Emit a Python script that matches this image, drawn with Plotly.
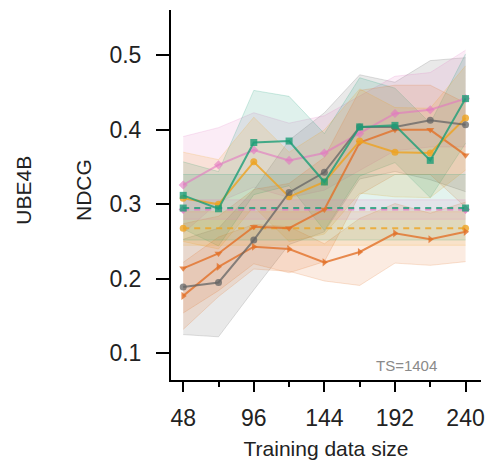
import plotly.graph_objects as go

# Training set sizes
sizes = [48, 72, 96, 120, 144, 168, 192, 216, 240]

# Mean NDCG per method, with lower / upper band limits
green_mean = [0.312, 0.294, 0.383, 0.385, 0.330, 0.404, 0.406, 0.359, 0.442]
green_lo = [0.267, 0.244, 0.313, 0.325, 0.265, 0.338, 0.356, 0.309, 0.382]
green_hi = [0.357, 0.344, 0.453, 0.445, 0.395, 0.470, 0.456, 0.409, 0.502]

pink_mean = [0.326, 0.353, 0.373, 0.359, 0.369, 0.395, 0.422, 0.427, 0.442]
pink_lo = [0.261, 0.303, 0.323, 0.309, 0.319, 0.345, 0.372, 0.377, 0.377]
pink_hi = [0.391, 0.403, 0.423, 0.409, 0.419, 0.445, 0.472, 0.477, 0.507]

yellow_mean = [0.308, 0.300, 0.357, 0.310, 0.330, 0.385, 0.370, 0.369, 0.416]
yellow_lo = [0.250, 0.240, 0.297, 0.250, 0.260, 0.315, 0.310, 0.309, 0.346]
yellow_hi = [0.370, 0.360, 0.417, 0.370, 0.400, 0.455, 0.430, 0.429, 0.486]

orange_a_mean = [0.214, 0.234, 0.270, 0.268, 0.293, 0.383, 0.400, 0.400, 0.366]
orange_a_lo = [0.154, 0.184, 0.220, 0.208, 0.223, 0.313, 0.340, 0.340, 0.296]
orange_a_hi = [0.274, 0.284, 0.320, 0.328, 0.363, 0.453, 0.460, 0.460, 0.436]

orange_b_mean = [0.177, 0.216, 0.243, 0.240, 0.222, 0.236, 0.261, 0.253, 0.263]
orange_b_lo = [0.132, 0.176, 0.213, 0.210, 0.197, 0.191, 0.221, 0.218, 0.223]
orange_b_hi = [0.222, 0.256, 0.273, 0.270, 0.247, 0.281, 0.301, 0.288, 0.303]

grey_mean = [0.189, 0.195, 0.252, 0.316, 0.343, 0.404, 0.404, 0.413, 0.407]
grey_lo = [0.125, 0.122, 0.185, 0.246, 0.263, 0.334, 0.344, 0.333, 0.317]
grey_hi = [0.253, 0.268, 0.319, 0.386, 0.423, 0.474, 0.464, 0.493, 0.497]

# Baselines that do not depend on training size (value, low, high)
base_ends = [48, 240]
green_base = [0.295, 0.252, 0.340]
pink_base = [0.293, 0.280, 0.306]
yellow_base = [0.268, 0.245, 0.290]

y_ticks = [0.1, 0.2, 0.3, 0.4, 0.5]
x_ticks = [48, 96, 144, 192, 240]

GREEN = "27,158,119"
PINK = "227,119,194"
YELLOW = "238,163,32"
ORANGE = "226,113,40"
GREY = "100,100,100"


def rgba(c, a):
    return f"rgba({c},{a})"


fig = go.Figure()


def add_band(x, lo, hi, col, alpha=0.14):
    fig.add_trace(go.Scatter(x=x, y=hi, mode="lines",
                             line=dict(color=rgba(col, 0.2), width=1),
                             hoverinfo="skip", showlegend=False))
    fig.add_trace(go.Scatter(x=x, y=lo, mode="lines",
                             line=dict(color=rgba(col, 0.2), width=1),
                             fill="tonexty", fillcolor=rgba(col, alpha),
                             hoverinfo="skip", showlegend=False))


# shaded spreads
for lo, hi, col in [(grey_lo, grey_hi, GREY), (pink_lo, pink_hi, PINK),
                    (green_lo, green_hi, GREEN), (yellow_lo, yellow_hi, YELLOW),
                    (orange_a_lo, orange_a_hi, ORANGE), (orange_b_lo, orange_b_hi, ORANGE)]:
    add_band(sizes, lo, hi, col)

for base, col in [(green_base, GREEN), (yellow_base, YELLOW), (pink_base, PINK)]:
    add_band(base_ends, [base[1]] * 2, [base[2]] * 2, col, 0.12)

# dashed baselines
for base, col, sym in [(yellow_base, YELLOW, "circle"), (pink_base, PINK, "diamond"),
                       (green_base, GREEN, "square")]:
    fig.add_trace(go.Scatter(x=base_ends, y=[base[0]] * 2, mode="lines+markers",
                             line=dict(color=rgba(col, 0.8), width=2, dash="6px,5px"),
                             marker=dict(symbol=sym, size=7, color=rgba(col, 0.8)),
                             showlegend=False))

# method curves
for mean, col, sym, a in [(orange_b_mean, ORANGE, "triangle-right", 0.8),
                          (orange_a_mean, ORANGE, "triangle-down", 0.8),
                          (yellow_mean, YELLOW, "circle", 0.8),
                          (pink_mean, PINK, "diamond", 0.6),
                          (grey_mean, GREY, "circle", 0.75),
                          (green_mean, GREEN, "square", 0.8)]:
    fig.add_trace(go.Scatter(x=sizes, y=mean, mode="lines+markers",
                             line=dict(color=rgba(col, a), width=2),
                             marker=dict(symbol=sym, size=7, color=rgba(col, a)),
                             showlegend=False))

FONT = "Liberation Sans, Arial, sans-serif"

fig.update_layout(
    width=491, height=464,
    margin=dict(l=171, r=6, t=10, b=84),
    plot_bgcolor="white", paper_bgcolor="white",
    font=dict(family=FONT, size=21, color="#222"),
    xaxis=dict(range=[39.7, 250.5], tickvals=x_ticks, ticktext=[str(v) for v in x_ticks],
               tickfont=dict(size=23),
               showline=True, linecolor="black", linewidth=2, showgrid=False, zeroline=False,
               ticks="outside", ticklen=10, tickwidth=2, tickcolor="black",
               ticklabelstandoff=6,
               minor=dict(ticks="outside", ticklen=5, tickwidth=2, tickcolor="black",
                          tickvals=[72, 120, 168, 216]),
               title=dict(text="Training data size", standoff=12, font=dict(size=21))),
    yaxis=dict(range=[0.064, 0.561], tickvals=y_ticks, ticktext=[f"{v:.1f}" for v in y_ticks],
               tickfont=dict(size=23),
               showline=True, linecolor="black", linewidth=2, showgrid=False, zeroline=False,
               ticks="outside", ticklen=13, tickwidth=2, tickcolor="black",
               ticklabelstandoff=10),
    annotations=[
        dict(text="NDCG", xref="paper", yref="paper", x=-0.28, y=0.514, textangle=-90,
             showarrow=False, font=dict(size=21), xanchor="center", yanchor="middle"),
        dict(text="UBE4B", xref="paper", yref="paper", x=-0.4745, y=0.514, textangle=-90,
             showarrow=False, font=dict(size=21), xanchor="center", yanchor="middle"),
        dict(text="TS=1404", xref="x", yref="y", x=200, y=0.083, showarrow=False,
             font=dict(size=15, color="#8a8a8a"), xanchor="center", yanchor="middle"),
    ],
)

fig.write_html("out.html")
